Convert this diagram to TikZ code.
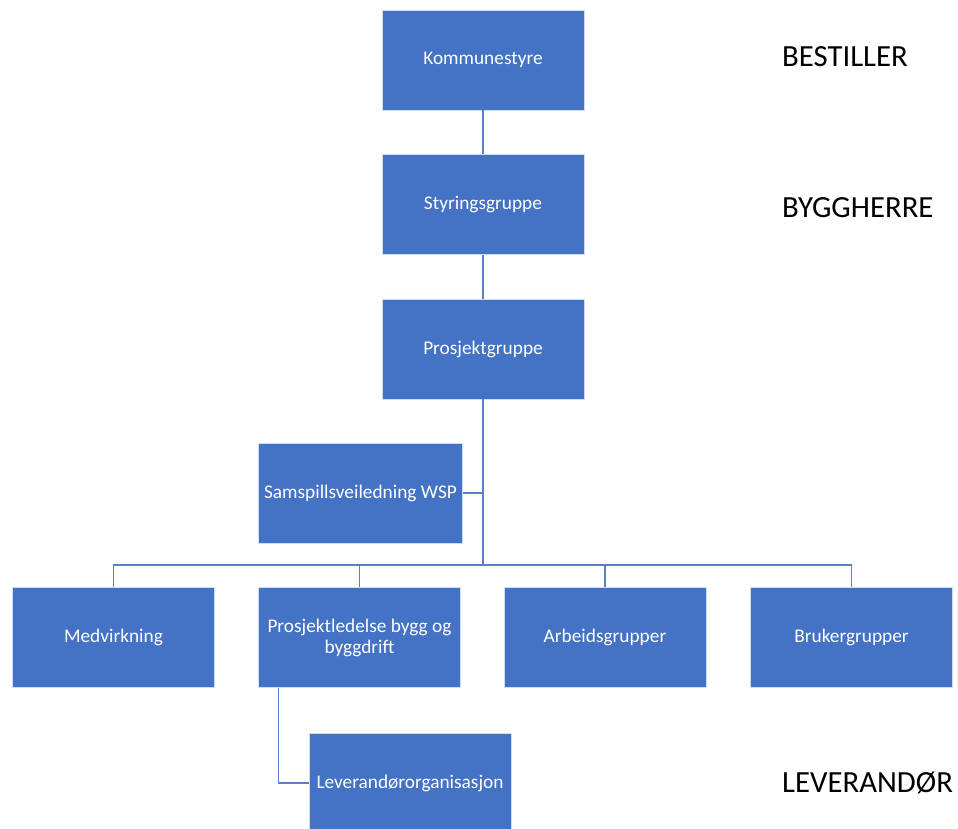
\documentclass[tikz,border=0pt]{standalone}
\usepackage{fontspec}
\setmainfont{Carlito}
\usepackage{tikz}
\usetikzlibrary{positioning}
\definecolor{orgblue}{HTML}{4472C4}
\definecolor{linkblue}{HTML}{5B7FC6}

\begin{document}
\begin{tikzpicture}[
    orgbox/.style={draw=white!75!orgblue, line width=0.5pt, fill=orgblue, text=white,
      minimum width=4.04cm, minimum height=2cm, align=center,
      font=\fontsize{11}{12}\selectfont},
    link/.style={draw=linkblue, line width=0.6pt},
    level/.style={anchor=west, font=\fontsize{17.5}{20}\selectfont}]
  \useasboundingbox (0,0) rectangle (19.16,-16.56);

  \node[orgbox] (ks) at (9.66,-1.2) {Kommunestyre};
  \node[orgbox] (sg) at (9.66,-4.09) {Styringsgruppe};
  \node[orgbox] (pg) at (9.66,-6.98) {Prosjektgruppe};
  \node[orgbox] (wsp) at (7.21,-9.86) {Samspillsveiledning WSP};

  \node[orgbox] (med) at (2.27,-12.75) {Medvirkning};
  \node[orgbox] (pl) at (7.19,-12.75) {Prosjektledelse bygg og\\byggdrift};
  \node[orgbox] (arb) at (12.1,-12.75) {Arbeidsgrupper};
  \node[orgbox] (bru) at (17.03,-12.75) {Brukergrupper};
  \node[orgbox] (lev) at (8.2,-15.66) {Leverandørorganisasjon};

  \coordinate (bus) at (9.66,-11.3);

  \draw[link] (ks.south) -- (sg.north);
  \draw[link] (sg.south) -- (pg.north);
  \draw[link] (pg.south) -- (bus);
  \draw[link] (wsp.east) -- (wsp.east -| pg.south);
  \foreach \n in {med, pl, arb, bru}
    \draw[link] (\n.north) |- (bus);
  \draw[link] ([xshift=0.4cm]pl.south west) |- (lev.west);

  \node[level] (bestiller) at (15.52,-1.14) {BESTILLER};
  \node[level] (byggherre) at (15.52,-4.16) {BYGGHERRE};
  \node[level] (leverandor) at (15.52,-15.66) {LEVERANDØR};
\end{tikzpicture}
\end{document}
